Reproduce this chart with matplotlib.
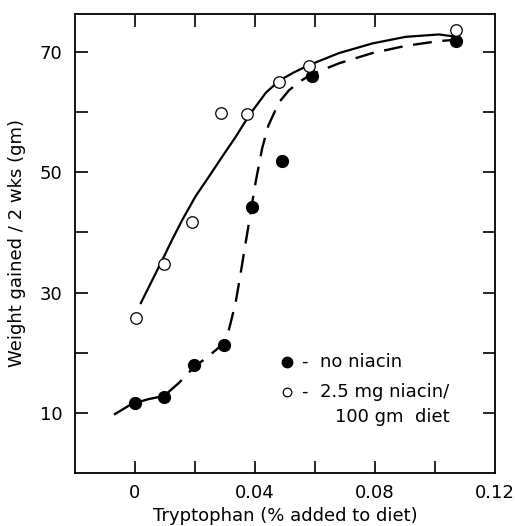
import matplotlib
matplotlib.use("Agg")
import matplotlib.pyplot as plt

# Data points
trp_no_niacin = [0.0, 0.0097, 0.0197, 0.0297, 0.039, 0.049, 0.059, 0.107]
wt_no_niacin = [11.7, 12.7, 18.0, 21.3, 44.2, 51.8, 66.0, 71.8]

trp_niacin = [0.0003, 0.0097, 0.019, 0.0287, 0.0373, 0.048, 0.058, 0.107]
wt_niacin = [25.8, 34.8, 41.7, 59.8, 59.6, 65.0, 67.7, 73.7]

# Hand-drawn curves
curve_no_niacin_x = [-0.007, -0.001, 0.0047, 0.0097, 0.0147, 0.0197, 0.0247, 0.0293,
                     0.0313, 0.0324, 0.0336, 0.0350, 0.0363, 0.0380, 0.0402, 0.0424,
                     0.0445, 0.0480, 0.0513, 0.0550, 0.0586, 0.0680, 0.0791, 0.0902,
                     0.1013, 0.1069]
curve_no_niacin_y = [9.7, 11.5, 12.3, 12.8, 15.0, 17.6, 19.5, 21.4,
                     23.8, 26.0, 28.5, 32.5, 36.5, 41.6, 48.3, 54.0,
                     57.8, 61.6, 63.6, 65.1, 66.2, 68.1, 69.8, 71.0,
                     71.8, 72.0]

curve_niacin_x = [0.0019, 0.0058, 0.0091, 0.0124, 0.0158, 0.0202, 0.0247, 0.0291,
                  0.0336, 0.0380, 0.0436, 0.0480, 0.0530, 0.0580, 0.0680, 0.0791,
                  0.0902, 0.1013, 0.1058]
curve_niacin_y = [28.2, 32.1, 35.4, 38.8, 42.1, 46.0, 49.3, 52.6,
                  55.9, 59.4, 63.2, 65.2, 66.6, 67.8, 69.8, 71.4,
                  72.5, 72.9, 72.6]

xticks_major = [0.0, 0.04, 0.08, 0.12]
xtick_labels = ["0", "0.04", "0.08", "0.12"]
xticks_minor = [0.02, 0.06, 0.10]
xticks_top = [0.0, 0.02, 0.04, 0.06, 0.08]
yticks_major = [10, 30, 50, 70]
yticks_minor = [20, 40, 60]

legend_lines = ["-  no niacin", "-  2.5 mg niacin/", "100 gm  diet"]

plt.rcParams['font.family'] = ['DejaVu Sans']
FS = 13

fig = plt.figure(figsize=(5.15, 5.26), dpi=100)
ax = fig.add_axes([0.1456, 0.1008, 0.8155, 0.8726])

ax.plot(curve_niacin_x, curve_niacin_y, color='black', lw=1.6,
        solid_capstyle='round', solid_joinstyle='round')
ax.plot(curve_no_niacin_x, curve_no_niacin_y, color='black', lw=1.7,
        dashes=(8, 4.5), dash_joinstyle='round')

ax.plot(trp_no_niacin, wt_no_niacin, 'o', ms=8.5, mfc='black', mec='black', zorder=3)
ax.plot(trp_niacin, wt_niacin, 'o', ms=8.3, mfc='white', mec='black', mew=0.9, zorder=4)

ax.set_xlim(-0.02, 0.12)
ax.set_ylim(0, 76.3)

ax.set_xticks(xticks_major)
ax.set_xticklabels(xtick_labels)
ax.set_xticks(xticks_minor, minor=True)
ax.set_yticks(yticks_major)
ax.set_yticks(yticks_minor, minor=True)

ax.tick_params(axis='both', which='both', direction='in', length=9, width=1.2,
               labelsize=FS, top=False, right=True)
ax.tick_params(axis='x', which='major', pad=8)
ax.tick_params(axis='y', which='major', pad=9)
for t in ax.xaxis.get_major_ticks():
    if abs(t.get_loc() - 0.12) < 1e-9:
        t.tick1line.set_visible(False)

ax_top = ax.secondary_xaxis('top')
ax_top.set_xticks(xticks_top)
ax_top.tick_params(direction='in', length=9, width=1.2, labeltop=False)
ax_top.spines['top'].set_visible(False)

for s in ax.spines.values():
    s.set_linewidth(1.3)

ax.set_xlabel("Tryptophan (% added to diet)", fontsize=FS, va='baseline')
ax.xaxis.set_label_coords(0.5, -0.1046)
ax.set_ylabel("Weight gained / 2 wks (gm)", fontsize=FS, va='center')
ax.yaxis.set_label_coords(-0.138, 0.5)

# legend drawn inside the axes
ax.plot([0.505], [0.242], 'o', ms=7.5, mfc='black', mec='black', transform=ax.transAxes)
ax.plot([0.505], [0.176], 'o', ms=6.2, mfc='white', mec='black', mew=0.9, transform=ax.transAxes)
ax.text(0.540, 0.242, legend_lines[0], transform=ax.transAxes, fontsize=FS, va='center', ha='left')
ax.text(0.540, 0.176, legend_lines[1], transform=ax.transAxes, fontsize=FS, va='center', ha='left')
ax.text(0.619, 0.122, legend_lines[2], transform=ax.transAxes, fontsize=FS, va='center', ha='left')

fig.savefig("out.png", dpi=100)
